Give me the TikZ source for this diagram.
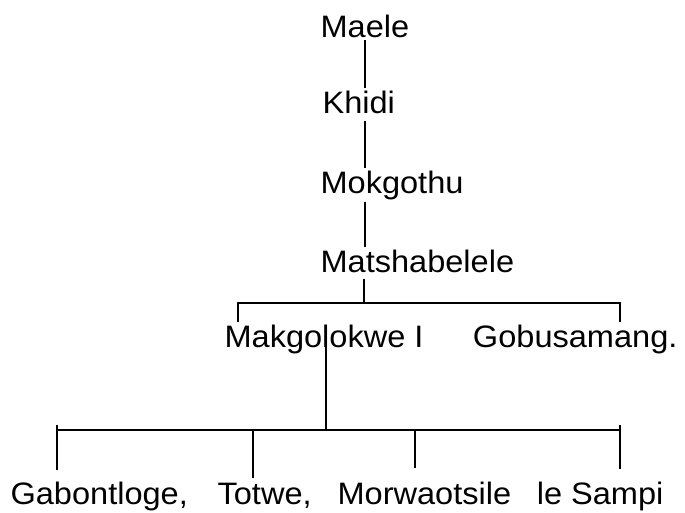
\documentclass[tikz,border=0pt]{standalone}
\usepackage{fontspec}
\setmainfont[FakeStretch=1.05]{Liberation Sans}
\usetikzlibrary{positioning}

\begin{document}
\begin{tikzpicture}[x=1pt, y=-1pt, line width=1.1pt, person/.style = {anchor=base west, inner sep=2pt, font=\fontsize{31}{36}\selectfont}]
\useasboundingbox (0,0) rectangle (685,512);
\node[person] (maele) at (318,37) {Maele};
\node[person] (khidi) at (320,113) {Khidi};
\node[person] (mokgothu) at (318,193) {Mokgothu};
\node[person] (matshabelele) at (318,272) {Matshabelele};

\node[person] (makgolokwe) at (222,347) {Makgolokwe I};
\node[person, anchor=base east] (gobusamang) at (680,347) {Gobusamang.};

\node[person] (gabontloge) at (8,504) {Gabontloge,};
\node[person] (totwe) at (215,504) {Totwe,};
\node[person] (morwaotsile) at (335,504) {Morwaotsile};
\node[person, anchor=base east] (sampi) at (666,504) {le Sampi};

\coordinate (trunk) at (365,0);
\coordinate (split1) at (364,303);
\coordinate (left1) at (238,303);
\coordinate (right1) at (620,303);
\coordinate (split2) at (326,430);
\coordinate (left2) at (57,430);
\coordinate (tick2) at (253,430);
\coordinate (tick3) at (415,430);
\coordinate (right2) at (620,430);

\draw (maele.south -| trunk) -- (khidi.north -| trunk);
\draw[shorten <=5pt] (khidi.south -| trunk) -- (mokgothu.north -| trunk);
\draw (mokgothu.south -| trunk) -- (matshabelele.north -| trunk);
\draw[shorten <=4pt] (matshabelele.south -| split1) -- (split1);

\draw (makgolokwe.north -| left1) -- (left1) -- (right1) -- (gobusamang.north -| right1);
\draw[shorten <=6pt] (makgolokwe.north -| split2) -- (split2);

\draw (left2) -- (right2);
\draw[shorten >=9pt] ([yshift=5pt]left2) -- (gabontloge.north -| left2);
\draw[shorten >=2pt] (tick2) -- (totwe.north -| tick2);
\draw[shorten >=11pt] (tick3) -- (morwaotsile.north -| tick3);
\draw[shorten >=10pt] ([yshift=5pt]right2) -- (sampi.north -| right2);

\end{tikzpicture}
\end{document}
